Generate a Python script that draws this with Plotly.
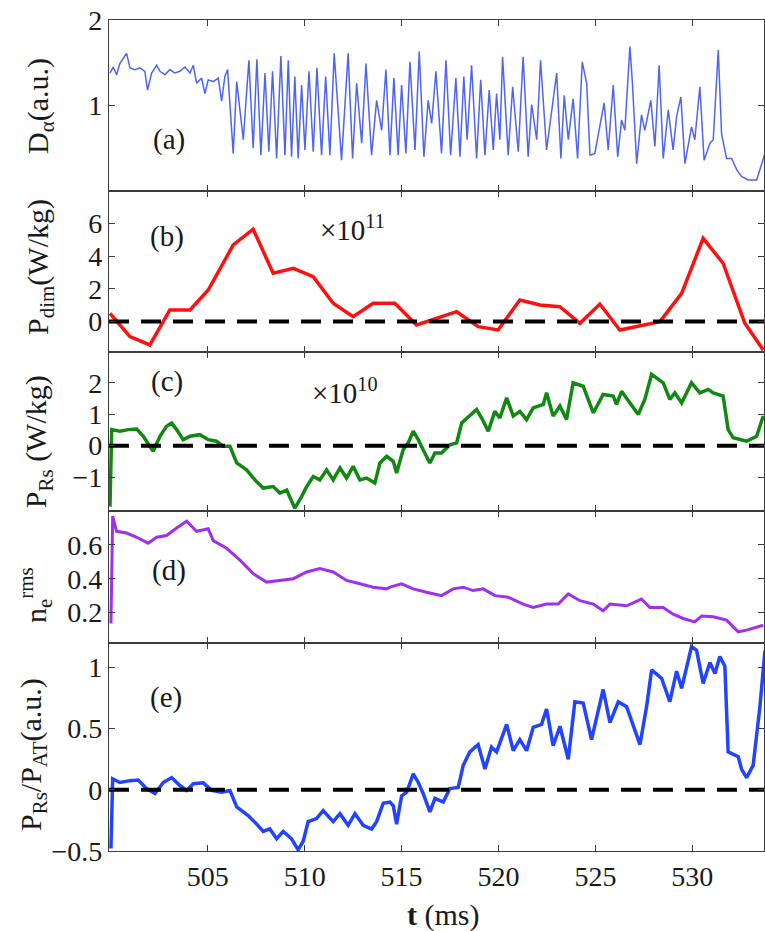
import plotly.graph_objects as go
from plotly.subplots import make_subplots

# ---------------- data ----------------
x_range = [499.9, 533.7]
x_ticks = [505, 510, 515, 520, 525, 530]

# (a) D_alpha
t_a = [499.95, 500.12, 500.29, 500.46, 500.63, 500.81, 500.98, 501.24, 501.50, 501.75,
       501.89, 502.10, 502.36, 502.53, 502.79, 503.04, 503.30, 503.56, 503.82, 504.08,
       504.25, 504.42, 504.68, 504.85, 505.02, 505.28, 505.54, 505.71, 505.88, 506.02,
       506.31, 506.49, 506.83, 507.12, 507.34, 507.53, 507.74, 507.95, 508.15, 508.34,
       508.55, 508.77, 508.98, 509.15, 509.32, 509.49, 509.66, 509.84, 510.01, 510.22,
       510.44, 510.63, 510.87, 511.08, 511.30, 511.52, 511.90, 512.24, 512.47, 512.68,
       512.94, 513.16, 513.45, 513.71, 513.97, 514.19, 514.40, 514.60, 514.82, 515.00,
       515.22, 515.43, 515.69, 515.91, 516.15, 516.37, 516.55, 516.77, 517.06, 517.29,
       517.53, 517.80, 518.01, 518.21, 518.38, 518.61, 518.87, 519.08, 519.30, 519.52,
       519.73, 519.90, 520.07, 520.21, 520.50, 520.73, 521.02, 521.27, 521.53, 521.71,
       521.97, 522.17, 522.48, 522.74, 523.00, 523.22, 523.39, 523.60, 523.85, 524.08,
       524.32, 524.55, 524.72, 524.97, 525.14, 525.45, 525.66, 525.92, 526.15, 526.35,
       526.52, 526.78, 526.90, 527.13, 527.38, 527.55, 527.86, 528.07, 528.29, 528.50,
       528.76, 529.01, 529.19, 529.41, 529.62, 529.96, 530.13, 530.39, 530.61, 530.91,
       531.08, 531.34, 531.51, 531.77, 532.03, 532.29, 532.54, 532.88, 533.32, 533.49,
       533.75]
d_alpha = [1.38, 1.45, 1.36, 1.49, 1.55, 1.61, 1.44, 1.42, 1.44, 1.40,
           1.18, 1.38, 1.47, 1.40, 1.36, 1.42, 1.38, 1.40, 1.45, 1.38,
           1.47, 1.26, 1.32, 1.14, 1.30, 1.28, 1.32, 1.05, 1.34, 1.42,
           0.44, 1.28, 0.60, 1.53, 0.50, 1.54, 0.42, 1.38, 0.46, 1.40,
           0.38, 1.58, 0.42, 1.53, 0.40, 1.34, 0.38, 1.24, 0.48, 1.40,
           0.46, 1.44, 0.42, 1.34, 0.42, 1.61, 0.36, 1.61, 0.38, 1.26,
           0.56, 1.49, 0.42, 1.06, 0.71, 1.42, 0.42, 1.32, 0.42, 1.24,
           0.44, 1.51, 0.48, 1.63, 0.40, 1.06, 0.79, 1.40, 0.44, 1.53,
           0.42, 1.32, 0.40, 1.34, 0.60, 1.47, 0.38, 1.30, 0.42, 1.18,
           0.48, 1.14, 0.60, 1.57, 0.42, 1.22, 0.46, 1.57, 0.40, 1.01,
           0.60, 1.53, 0.48, 0.91, 1.38, 0.38, 1.12, 0.60, 1.08, 0.38,
           1.51, 1.26, 0.42, 0.44, 0.64, 1.03, 0.48, 1.24, 0.40, 0.83,
           0.71, 1.69, 1.30, 0.32, 0.89, 0.71, 1.06, 0.52, 1.47, 0.38,
           0.95, 0.48, 0.87, 1.10, 0.32, 0.75, 0.60, 1.22, 0.36, 0.56,
           0.60, 1.65, 0.67, 0.38, 0.38, 0.25, 0.17, 0.13, 0.13, 0.25,
           0.44]

# (b) P_dim (x10^11 W/kg)
t_b = [499.95, 500.98, 502.01, 503.04, 504.08, 505.02, 506.31, 507.34, 508.37, 509.41,
       510.44, 511.47, 512.50, 513.53, 514.65, 515.77, 517.84, 518.95, 519.98, 521.10,
       522.14, 523.17, 524.20, 525.23, 526.26, 528.33, 529.45, 530.56, 531.59, 532.71,
       533.66]
p_dim = [0.50, -0.93, -1.44, 0.71, 0.71, 1.93, 4.69, 5.66, 2.96, 3.26,
         2.75, 1.12, 0.29, 1.12, 1.12, -0.21, 0.60, -0.32, -0.52, 1.32,
         1.01, 0.91, -0.11, 1.07, -0.52, -0.01, 1.73, 5.10, 3.57, -0.11,
         -1.75]

# (c) P_Rs (x10^10 W/kg)
t_c = [499.95, 500.04, 500.46, 500.89, 501.33, 501.67, 502.18, 502.53, 502.87, 503.13,
       503.39, 503.73, 504.08, 504.59, 505.02, 505.45, 505.79, 506.14, 506.49, 507.00,
       507.43, 507.86, 508.37, 508.72, 509.07, 509.49, 509.84, 510.10, 510.44, 510.78,
       511.13, 511.47, 511.82, 512.16, 512.50, 512.85, 513.19, 513.62, 513.88, 514.23,
       514.57, 514.74, 515.08, 515.34, 515.60, 515.86, 516.11, 516.46, 516.72, 517.06,
       517.49, 517.84, 518.10, 518.52, 518.87, 519.13, 519.47, 519.81, 520.07, 520.42,
       520.76, 521.10, 521.45, 521.79, 522.31, 522.48, 522.82, 523.17, 523.51, 523.85,
       524.37, 524.89, 525.40, 525.92, 526.09, 526.35, 526.78, 527.21, 527.55, 527.90,
       528.50, 528.84, 529.10, 529.45, 529.96, 530.39, 530.82, 531.08, 531.59, 531.85,
       532.11, 532.80, 533.32, 533.66]
p_rs = [-1.94, 0.51, 0.46, 0.51, 0.53, 0.30, -0.18, 0.30, 0.62, 0.72,
        0.51, 0.19, 0.30, 0.35, 0.19, 0.14, -0.02, -0.02, -0.55, -0.77,
        -1.09, -1.35, -1.30, -1.51, -1.41, -1.99, -1.62, -1.30, -0.98, -1.09,
        -0.77, -1.09, -0.71, -1.03, -0.66, -1.09, -1.03, -1.19, -0.55, -0.34,
        -0.50, -0.87, -0.13, 0.09, 0.46, 0.19, -0.13, -0.55, -0.23, -0.23,
        0.03, 0.09, 0.72, 0.94, 1.15, 0.88, 0.46, 1.09, 0.88, 1.52,
        0.94, 1.09, 0.83, 1.20, 1.31, 1.68, 0.94, 1.26, 0.83, 2.00,
        1.89, 1.04, 1.63, 1.58, 1.31, 1.73, 1.36, 0.99, 1.47, 2.27,
        2.00, 1.47, 1.68, 1.36, 2.00, 1.68, 1.79, 1.68, 1.58, 0.51,
        0.25, 0.14, 0.30, 0.94]

# (d) n_e^rms
t_d = [500.00, 500.09, 500.29, 500.81, 501.33, 501.92, 502.36, 502.87, 503.39, 503.91,
       504.42, 505.02, 505.28, 505.97, 506.66, 507.34, 508.03, 508.72, 509.41, 510.10,
       510.78, 511.47, 512.16, 512.85, 513.53, 514.23, 514.40, 515.00, 515.60, 516.29,
       517.06, 517.66, 518.18, 518.69, 519.21, 519.81, 520.50, 521.27, 521.79, 522.48,
       523.08, 523.60, 524.20, 524.89, 525.40, 525.75, 526.61, 527.38, 527.81, 528.50,
       529.01, 529.53, 530.13, 530.48, 531.08, 531.77, 532.37, 532.80, 533.66]
n_rms = [0.135, 0.77, 0.68, 0.67, 0.645, 0.61, 0.645, 0.655, 0.70, 0.74,
         0.68, 0.695, 0.625, 0.58, 0.51, 0.43, 0.38, 0.39, 0.40, 0.44,
         0.46, 0.44, 0.39, 0.37, 0.35, 0.34, 0.35, 0.37, 0.34, 0.32,
         0.30, 0.34, 0.35, 0.33, 0.34, 0.30, 0.29, 0.25, 0.23, 0.25,
         0.25, 0.31, 0.27, 0.25, 0.21, 0.25, 0.24, 0.28, 0.23, 0.23,
         0.19, 0.165, 0.145, 0.18, 0.175, 0.155, 0.086, 0.096, 0.125]

# (e) P_Rs / P_AT
t_e = [500.00, 500.09, 500.46, 500.98, 501.41, 501.84, 502.27, 502.70, 503.13, 503.56,
       503.91, 504.25, 504.76, 505.20, 505.71, 506.14, 506.49, 507.08, 507.52, 507.86,
       508.20, 508.55, 508.89, 509.32, 509.66, 509.92, 510.18, 510.61, 510.95, 511.21,
       511.47, 511.82, 512.24, 512.59, 513.02, 513.45, 513.71, 514.05, 514.40, 514.57,
       514.74, 515.00, 515.26, 515.60, 515.86, 516.11, 516.46, 516.72, 517.15, 517.49,
       517.92, 518.18, 518.52, 518.95, 519.30, 519.64, 519.90, 520.42, 520.76, 521.10,
       521.45, 521.79, 522.22, 522.48, 522.82, 523.17, 523.60, 523.94, 524.37, 524.80,
       525.40, 525.75, 526.18, 526.61, 526.95, 527.30, 527.64, 527.90, 528.42, 528.84,
       529.19, 529.45, 529.96, 530.22, 530.56, 530.91, 531.17, 531.42, 531.68, 531.85,
       532.37, 532.54, 532.80, 533.14, 533.49, 533.75]
p_ratio = [-0.48, 0.09, 0.06, 0.075, 0.08, 0.01, -0.03, 0.06, 0.10, 0.035,
           -0.005, 0.05, 0.057, -0.005, -0.02, -0.005, -0.14, -0.21, -0.28, -0.34,
           -0.32, -0.40, -0.34, -0.40, -0.49, -0.42, -0.26, -0.235, -0.17, -0.22,
           -0.26, -0.195, -0.29, -0.195, -0.29, -0.32, -0.26, -0.11, -0.10, -0.13,
           -0.28, -0.05, -0.02, 0.13, 0.06, -0.03, -0.18, -0.07, -0.10, 0.01,
           0.02, 0.20, 0.31, 0.37, 0.17, 0.35, 0.31, 0.535, 0.32, 0.41,
           0.32, 0.51, 0.535, 0.66, 0.36, 0.52, 0.25, 0.72, 0.71, 0.41,
           0.82, 0.55, 0.72, 0.68, 0.52, 0.37, 0.68, 0.98, 0.91, 0.72,
           0.97, 0.83, 1.17, 1.14, 0.87, 1.04, 0.95, 1.09, 1.01, 0.31,
           0.27, 0.17, 0.10, 0.20, 0.68, 1.14]

# ---------------- figure ----------------
SERIF = "'Liberation Serif', 'Times New Roman', Times, serif"
TXT = "#1a1a1a"
AX = "#3c3c3c"

fig = make_subplots(rows=5, cols=1, shared_xaxes=True, vertical_spacing=0)

fig.add_trace(go.Scatter(x=t_a, y=d_alpha, mode="lines",
                         line=dict(color="#5064f2", width=1.5)), row=1, col=1)
fig.add_trace(go.Scatter(x=t_b, y=p_dim, mode="lines",
                         line=dict(color="#ff1010", width=3.5)), row=2, col=1)
fig.add_trace(go.Scatter(x=t_c, y=p_rs, mode="lines",
                         line=dict(color="#118811", width=3.5)), row=3, col=1)
fig.add_trace(go.Scatter(x=t_d, y=n_rms, mode="lines",
                         line=dict(color="#a030f0", width=3)), row=4, col=1)
fig.add_trace(go.Scatter(x=t_e, y=p_ratio, mode="lines",
                         line=dict(color="#2244ff", width=3.5)), row=5, col=1)

for r in (2, 3, 5):
    fig.add_trace(go.Scatter(x=x_range, y=[0, 0], mode="lines",
                             line=dict(color="black", width=4, dash="20px,12px")),
                  row=r, col=1)

common = dict(showline=True, linecolor=AX, linewidth=1.3, mirror="ticks",
              ticks="inside", ticklen=6, tickwidth=1.3, tickcolor=AX,
              showgrid=False, zeroline=False,
              tickfont=dict(family=SERIF, size=28, color=TXT))

for r in range(1, 6):
    fig.update_xaxes(range=x_range, tickvals=x_ticks, row=r, col=1, **common)

fig.update_yaxes(row=1, col=1, range=[0, 2], tickvals=[1, 2], **common)
fig.update_yaxes(row=2, col=1, range=[-1.87, 8.0], tickvals=[0, 2, 4, 6], **common)
fig.update_yaxes(row=3, col=1, range=[-2.08, 2.98], tickvals=[-1, 0, 1, 2], **common)
fig.update_yaxes(row=4, col=1, range=[0.02, 0.80], tickvals=[0.2, 0.4, 0.6], **common)
fig.update_yaxes(row=5, col=1, range=[-0.5, 1.2], tickvals=[-0.5, 0, 0.5, 1], **common)

fig.update_layout(
    yaxis=dict(domain=[0.7942, 1.0]),
    yaxis2=dict(domain=[0.6005, 0.7942]),
    yaxis3=dict(domain=[0.4091, 0.6005]),
    yaxis4=dict(domain=[0.2503, 0.4091]),
    yaxis5=dict(domain=[0.0, 0.2503]),
)

ann = []
titles = [
    ("D<sub>α</sub>(a.u.)", -0.1053, 0.8965),
    ("P<sub>dim</sub>(W/kg)", -0.1053, 0.7028),
    ("P<sub>Rs</sub> (W/kg)", -0.108, 0.4922),
    ("n<sub>e</sub><sup>rms</sup>", -0.113, 0.308),
    ("P<sub>Rs</sub>/P<sub>AT</sub>(a.u.)", -0.116, 0.1155),
]
for text, x, y in titles:
    ann.append(dict(text=text, x=x, y=y, xref="paper", yref="paper",
                    textangle=-90, showarrow=False, xanchor="center", yanchor="middle",
                    font=dict(family=SERIF, size=30, color=TXT)))

labels = [
    ("(a)", 0.0916, 0.8556),
    ("(b)", 0.0885, 0.740),
    ("×10<sup>11</sup>", 0.371, 0.7497),
    ("(c)", 0.0885, 0.5644),
    ("×10<sup>10</sup>", 0.360, 0.5535),
    ("(d)", 0.0916, 0.3381),
    ("(e)", 0.087, 0.1853),
]
for text, x, y in labels:
    ann.append(dict(text=text, x=x, y=y, xref="paper", yref="paper",
                    showarrow=False, xanchor="center", yanchor="middle",
                    font=dict(family=SERIF, size=29, color=TXT)))

ann.append(dict(text="<b>t</b> (ms)", x=0.510, y=-0.077, xref="paper", yref="paper",
                showarrow=False, xanchor="center", yanchor="middle",
                font=dict(family=SERIF, size=30, color=TXT)))

fig.update_layout(
    width=765, height=931,
    margin=dict(l=109, r=1, t=20, b=80),
    paper_bgcolor="white", plot_bgcolor="white",
    showlegend=False,
    annotations=ann,
)

# remove the default 8px page margin so the 765x931 figure fills the window exactly
fig.write_html("out.html",
               config={"displayModeBar": False},
               post_script="document.body.style.margin='0';document.body.style.overflow='hidden';")
